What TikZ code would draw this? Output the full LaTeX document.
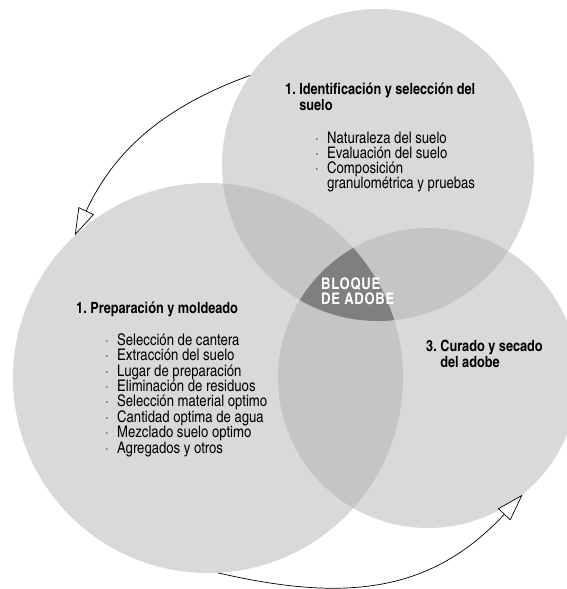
\documentclass[tikz,border=0pt]{standalone}
\usepackage{fontspec}
\setmainfont{texgyreheroscn}[Extension=.otf, UprightFont=*-regular, BoldFont=*-bold]
\usetikzlibrary{arrows.meta}

\definecolor{ring}{HTML}{D9D9D9}
\definecolor{ringtwo}{HTML}{C5C5C5}
\definecolor{ringcore}{HTML}{7F7F7F}

\newcommand{\dotitem}{\makebox[12pt][l]{·}}

\begin{document}
\begin{tikzpicture}[x=1pt, y=1pt,
    zone/.style={circle, fill=ring, inner sep=0pt},
    cycle/.style={-{Triangle[length=27pt, width=17pt, fill=white]}, line width=0.7pt},
    title/.style={font=\fontsize{15.5}{13}\selectfont\bfseries, anchor=base west, align=left, inner sep=0pt},
    items/.style={font=\fontsize{16}{15.3}\selectfont, anchor=base west, align=left, inner sep=0pt}]
    \useasboundingbox (0,0) rectangle (566,-589);

    % the three stages
    \node[zone, minimum size=312pt] (ident) at (378,-165) {};
    \node[zone, minimum size=390pt] (prep) at (208,-378) {};
    \node[zone, minimum size=300pt] (cure) at (428,-378) {};

    % overlaps
    \begin{scope}
        \clip (ident.center) circle[radius=156pt];
        \fill[ringtwo] (prep.center) circle[radius=195pt];
        \fill[ringtwo] (cure.center) circle[radius=150pt];
    \end{scope}
    \begin{scope}
        \clip (prep.center) circle[radius=195pt];
        \fill[ringtwo] (cure.center) circle[radius=150pt];
    \end{scope}
    \begin{scope}
        \clip (ident.center) circle[radius=156pt];
        \clip (prep.center) circle[radius=195pt];
        \fill[ringcore] (cure.center) circle[radius=150pt];
    \end{scope}

    % labels (placed at the baseline of their last line)
    \node[title] (identtitle) at (285,-110) {1.~Identificación y selección del\\\phantom{1.~}suelo};
    \node[items, font=\fontsize{16}{15}\selectfont] (identlist) at (315,-188) {\dotitem Naturaleza del suelo\\
        \dotitem Evaluación del suelo\\
        \dotitem Composición\\
        \makebox[12pt]{}granulométrica y pruebas};
    \node[title] (preptitle) at (76,-313) {1.~Preparación y moldeado};
    \node[items, font=\fontsize{16}{15.4}\selectfont] (preplist) at (105,-453) {\dotitem Selección de cantera\\
        \dotitem Extracción del suelo\\
        \dotitem Lugar de preparación\\
        \dotitem Eliminación de residuos\\
        \dotitem Selección material optimo\\
        \dotitem Cantidad optima de agua\\
        \dotitem Mezclado suelo optimo\\
        \dotitem Agregados y otros};
    \node[title] (curetitle) at (426,-367) {3.~Curado y secado\\\phantom{3.~}del adobe};
    \node[title, text=white, font=\fontsize{16}{15}\selectfont\bfseries\addfontfeature{LetterSpace=4}] (core) at (321,-304) {BLOQUE\\DE ADOBE};

    % cycle arrows
    \draw[cycle] (ident.145.5) to[out=200, in=65] (prep.133.8);
    \draw[cycle] (prep.-87) to[out=-13, in=227, looseness=1.08] (cure.-51);
\end{tikzpicture}
\end{document}
